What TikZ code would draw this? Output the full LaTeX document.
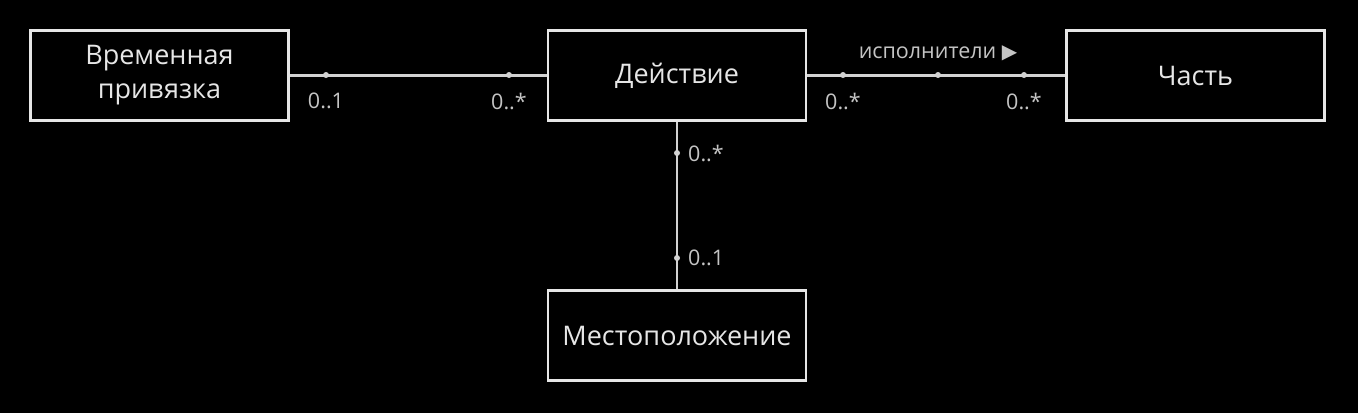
\documentclass[tikz,border=0pt]{standalone}
\usepackage{fontspec}
\setmainfont{Open Sans}
\begin{document}
\begin{tikzpicture}[x=1pt,y=-1pt,
  cls/.style={draw=boxline,fill=black,line width=2.8pt,minimum width=258pt,minimum height=90pt,inner sep=0pt,text=boxtext,align=center,font=\fontsize{27}{34}\selectfont},
  assoc/.style={draw=lineclr,line width=2.8pt},
  mult/.style={text=labeltext,font=\fontsize{21.5}{24}\selectfont,inner sep=0pt},
  pin/.style={circle,fill=lineclr,inner sep=0pt,minimum size=6pt}]
\definecolor{boxline}{HTML}{E6E6E6}
\definecolor{boxtext}{HTML}{E6E6E6}
\definecolor{lineclr}{HTML}{D2D2D2}
\definecolor{labeltext}{HTML}{C4C4C4}
\fill[black] (0,0) rectangle (1358,413);
\useasboundingbox (0,0) rectangle (1358,413);
\node[cls] (tb) at (159.5,75.5) {Временная\\привязка};
\node[cls] (act) at (677,75.5) {Действие};
\node[cls] (part) at (1195.5,75.5) {Часть};
\node[cls] (loc) at (677,335.5) {Местоположение};
\draw[assoc] (tb.east) -- (act.west);
\draw[assoc] (act.east) -- (part.west);
\draw[assoc] (act.south) -- (loc.north);
\node[pin] (p1) at (326,75) {};
\node[pin] (p2) at (509,75) {};
\node[pin] (p3) at (843,75) {};
\node[pin] (p4) at (938,75) {};
\node[pin] (p5) at (1024,75) {};
\node[pin] (p6) at (677,153) {};
\node[pin] (p7) at (677,258) {};
\node[mult] (m1) at (326,101) {0..1};
\node[mult] (m2) at (509,101) {0..*};
\node[mult] (m3) at (843,101) {0..*};
\node[mult] (m4) at (1024,101) {0..*};
\node[mult,anchor=west] (m6) at (688,153) {0..*};
\node[mult,anchor=west] (m7) at (688,258) {0..1};
\node[mult] (rn) at (938,53) {исполнители {\fontspec{DejaVu Sans}\fontsize{20}{22}\selectfont ▶}};
\end{tikzpicture}
\end{document}
